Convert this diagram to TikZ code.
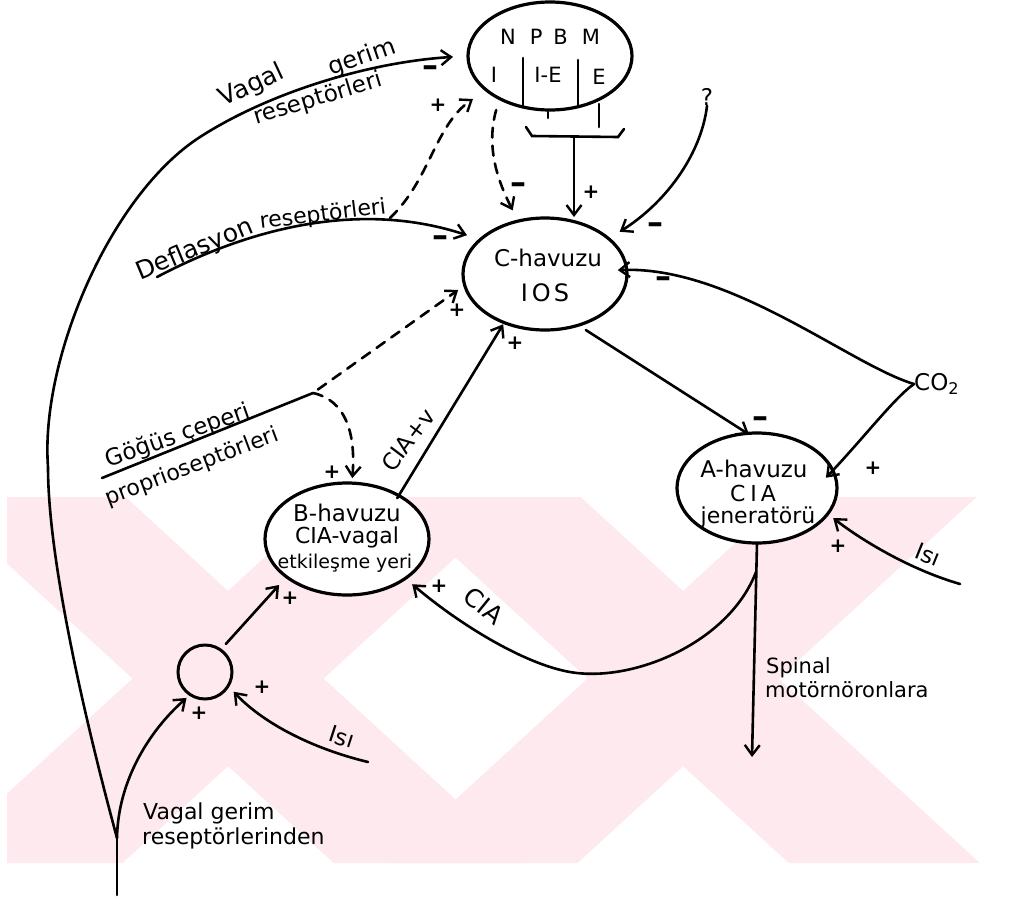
\documentclass[tikz,border=0pt]{standalone}
\usepackage{fontspec}
\setmainfont{DejaVu Sans}
\usetikzlibrary{shapes.geometric,arrows.meta}
\definecolor{wm}{RGB}{253,233,238}
\newcommand\fsz[1]{\fontsize{#1}{#1}\selectfont}
\begin{document}
\begin{tikzpicture}[x=1pt,y=-1pt,
  ell/.style={draw, ellipse, line width=3.2pt, inner sep=0pt, outer sep=0pt},
  ln/.style={line width=2.6pt, line cap=round},
  conn/.style={ln, -{Straight Barb[length=10pt,width=15pt,line width=2.4pt]}},
  dconn/.style={conn, dash pattern=on 10pt off 8pt},
  lab/.style={inner sep=0pt, font=\fsz{22}},
  sg/.style={inner sep=0pt, font=\fsz{20}\bfseries},
  mn/.style={inner sep=0pt, font=\fsz{32}\bfseries}]
\useasboundingbox (0,0) rectangle (1011,900);
\fill[white] (0,0) rectangle (1011,900);
% watermark
\begin{scope}
\clip (7,497) rectangle (1011,863);
\fill[wm] (-65.5,497) -- (125.5,497) -- (524.8,863) -- (333.8,863) -- cycle;
\fill[wm] (330.5,497) -- (521.5,497) -- (122.5,863) -- (-68.5,863) -- cycle;
\fill[wm] (389.5,497) -- (580.5,497) -- (979.8,863) -- (788.8,863) -- cycle;
\fill[wm] (785.5,497) -- (976.5,497) -- (577.5,863) -- (386.5,863) -- cycle;
\end{scope}
% ellipses
\node[ell, minimum width=164pt, minimum height=108pt] (N) at (550,56) {};
\node[ell, minimum width=164pt, minimum height=112pt] (C) at (545,274) {};
\node[ell, fill=white, minimum width=160pt, minimum height=110pt] (A) at (757,488) {};
\node[ell, fill=white, minimum width=164pt, minimum height=112pt] (B) at (347,539) {};
\node[draw, circle, line width=3pt, minimum size=54pt, inner sep=0pt, outer sep=0pt] (S) at (205,672) {};
% texts in ellipses
\node[lab, font=\fsz{21}] (tNPBM) at (550,37) {N\hspace{14pt}P\hspace{11pt}B\hspace{14pt}M};
\node[lab, font=\fsz{21}] (tI) at (494,75) {I};
\node[lab, font=\fsz{21}] (tIE) at (548,75) {I-E};
\node[lab, font=\fsz{21}] (tE) at (599,77) {E};
\draw[ln] (523,58) -- (523,107);
\draw[ln] (578,60) -- (578,107);
\draw[ln] (548,112) -- (548,118);
\draw[ln] (599,104) -- (599,127);
\draw[ln] (526,127) -- (532,136) -- (618,137) -- (624,129);
\coordinate (brk) at (574,137);
\node[lab, font=\fsz{23}] (tC1) at (548,258) {C-havuzu};
\node[lab, font=\fsz{24}] (tC2) at (545,293) {I\hspace{4pt}O\hspace{3pt}S};
\node[lab, font=\fsz{23}] (tA1) at (754,469) {A-havuzu};
\node[lab, font=\fsz{22}] (tA2) at (753,493) {C\hspace{5pt}I\hspace{4pt}A};
\node[lab, font=\fsz{22}] (tA3) at (758,517) {jeneratörü};
\node[lab, font=\fsz{23}] (tB1) at (347,513) {B-havuzu};
\node[lab, font=\fsz{22}] (tB2) at (347,537) {CIA-vagal};
\node[lab, font=\fsz{19}] (tB3) at (345,563) {etkileşme yeri};
% free labels
\node[lab, font=\fsz{25}, rotate=25] (tV1) at (252,86) {Vagal};
\node[lab, font=\fsz{24}, rotate=19] (tV2) at (362,58) {gerim};
\node[lab, font=\fsz{23}, rotate=17] (tV3) at (318,99) {reseptörleri};
\node[lab, font=\fsz{25}, rotate=22.6] (tD1) at (195,250) {Deflasyon};
\node[lab, font=\fsz{22}, rotate=7] (tD2) at (323,215) {reseptörleri};
\node[lab, font=\fsz{23}, rotate=19.4] (tG1) at (178,436) {Göğüs çeperi};
\node[lab, font=\fsz{22}, rotate=20.7] (tG2) at (192,467) {proprioseptörleri};
\node[lab, font=\fsz{23}, rotate=53] (tCv) at (408,440) {CIA+v};
\node[lab, font=\fsz{25}, rotate=-39] (tCIA) at (484,606) {CIA};
\node[lab, font=\fsz{23}, rotate=-18] (tIs1) at (342,737) {Isı};
\node[lab, font=\fsz{23}, rotate=-22] (tIs2) at (928,555) {Isı};
\node[lab, font=\fsz{21}, anchor=west] (tSp1) at (766,668) {Spinal};
\node[lab, font=\fsz{21}, anchor=west] (tSp2) at (765,690) {motörnöronlara};
\node[lab, font=\fsz{22}, anchor=west] (tVg1) at (143,813) {Vagal gerim};
\node[lab, font=\fsz{22}, anchor=west] (tVg2) at (142,838) {reseptörlerinden};
\node[lab, font=\fsz{23}] (q) at (707,97) {?};
\node[lab, font=\fsz{23}, anchor=west] (co2) at (914,384) {CO\textsubscript{2}};
% coordinates
\coordinate (J) at (117,838);
\coordinate (B0) at (117,895);
\coordinate (D0) at (157,277);
\coordinate (dfork) at (390,218);
\coordinate (G0) at (102,478);
\coordinate (G1) at (313,393);
\coordinate (I1) at (368,762);
\coordinate (I2) at (960,584);
\coordinate (asplit) at (756,572);
\coordinate (spend) at (752,757);
% connectors
\draw[ln] (B0) -- (J);
\draw[conn, shorten >=15pt] (J) .. controls (85,720) and (48,560) .. (48,467) .. controls (40,360) and (110,195) .. (200,137) .. controls (270,92) and (370,62) .. (N.180);
\draw[conn, shorten >=5pt] (J) .. controls (118,780) and (150,730) .. (S.237);
\draw[conn, shorten >=14pt] (D0) .. controls (250,228) and (360,200) .. (C.152);
\draw[dconn, shorten >=16pt] (dfork) .. controls (430,180) and (435,125) .. (N.208);
\draw[dconn, shorten <=12pt, shorten >=12pt] (N.220) .. controls (485,150) and (500,185) .. (C.117);
\draw[conn, shorten >=1pt] (brk) -- (brk |- C.north);
\draw[conn, shorten >=13pt] (q.south) .. controls (702,150) and (670,200) .. (C.29);
\draw[conn, shorten >=-9pt] (co2.west) .. controls (850,365) and (730,265) .. (C.3);
\draw[conn, shorten >=-10pt] (co2.west) .. controls (895,397) and (862,440) .. (A.13);
\draw[conn, shorten <=9pt, shorten >=-2pt] (C.303) -- (A.100);
\draw[ln] (G0) -- (G1);
\draw[dconn, shorten <=6pt, shorten >=8pt] (G1) -- (C.188);
\draw[dconn, shorten >=5pt] (G1) .. controls (345,400) and (356,432) .. (B.85);
\draw[conn, shorten <=-3pt, shorten >=2pt] (B.40.5) -- (C.230);
\draw[conn, shorten <=8pt, shorten >=11pt] (S.55) -- (B.212);
\draw[conn, shorten >=8pt] (I1) .. controls (310,748) and (262,722) .. (S.329);
\draw[conn, shorten >=9pt] (asplit) .. controls (730,640) and (640,680) .. (577,673) .. controls (530,668) and (460,625) .. (B.326);
\draw[conn] (A.south) -- (spend);
\draw[conn, shorten >=7pt] (I2) .. controls (905,568) and (856,536) .. (A.340);
% signs
\node[mn] (s1) at (430,71) {–};
\node[sg] (s2) at (438,105) {+};
\node[mn] (s3) at (518,188) {–};
\node[sg] (s4) at (591,192) {+};
\node[mn] (s5) at (655,228) {–};
\node[mn] (s6) at (440,241) {–};
\node[mn] (s7) at (663,282) {–};
\node[sg] (s8) at (457,310) {+};
\node[sg] (s9) at (515,343) {+};
\node[mn] (s10) at (760,422) {–};
\node[sg] (s11) at (873,468) {+};
\node[sg] (s12) at (838,546) {+};
\node[sg] (s13) at (332,472) {+};
\node[sg] (s14) at (290,598) {+};
\node[sg] (s15) at (439,586) {+};
\node[sg] (s16) at (262,687) {+};
\node[sg] (s17) at (199,713) {+};
\end{tikzpicture}
\end{document}
